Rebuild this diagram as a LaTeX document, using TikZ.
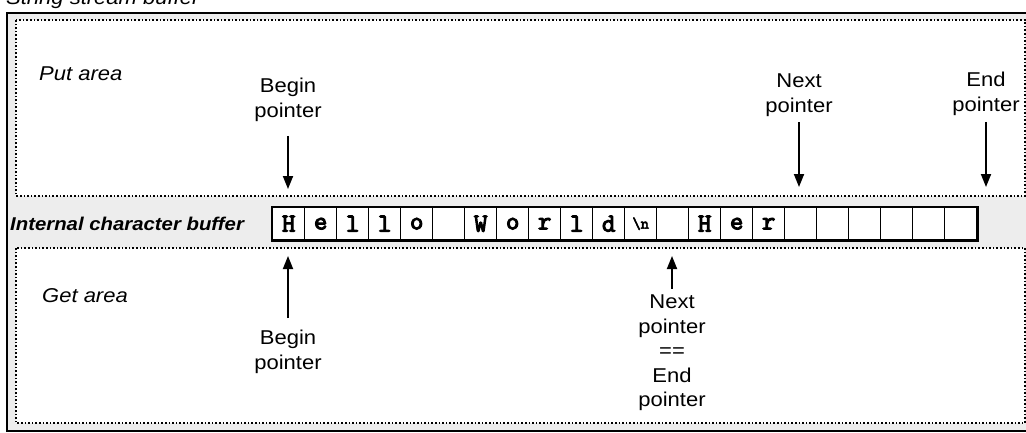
\documentclass[tikz,border=0pt]{standalone}
\usepackage{fontspec}
\setmainfont{Liberation Sans}[FakeStretch=1.1]
\newfontfamily\cellfont{Latin Modern Mono}[FakeBold=4]
\usetikzlibrary{arrows.meta}
\begin{document}
\begin{tikzpicture}[x=1pt,y=-1pt,
  lbl/.style={font=\fontsize{20}{24.5}\selectfont, align=center, inner sep=0pt},
  arealbl/.style={font=\fontsize{20}{23}\selectfont\itshape, inner sep=0pt, anchor=base west},
  cell/.style={draw, line width=1.4pt, minimum width=32pt, minimum height=32pt, inner sep=0pt,
    fill=white, anchor=north west, font=\cellfont\fontsize{26}{26}\selectfont},
  ptr/.style={line width=1.8pt, -{Triangle[length=13pt,width=10pt]}},
  area/.style={line width=1.6pt, dotted, fill=white},
  frame/.style={line width=2.4pt, fill=gray!14}]
\useasboundingbox (0,0) rectangle (1026,432);
% outer frame and areas
\draw[frame] (7,13) rectangle (1040,431);
\draw[area] (16,20) rectangle (1025,196);
\draw[area] (16,248) rectangle (1025,423);
% title (cut at top, as in the reference)
\node[font=\fontsize{20}{23}\selectfont\itshape, inner sep=0pt, anchor=base west] (title) at (6,4) {String stream buffer};
% area labels
\node[arealbl] (put) at (39,80) {Put area};
\node[arealbl, font=\fontsize{18.5}{23}\selectfont\bfseries\itshape] (icb) at (10,230) {Internal character buffer};
\node[arealbl] (get) at (42,302) {Get area};
% cells
\foreach \c [count=\i from 0] in {H,e,l,l,o,{},W,o,r,l,d,{\fontsize{16}{16}\selectfont\textbackslash n},{},H,e,r,{},{},{},{},{},{}}
  \node[cell] (c\i) at (272+32*\i,207) {\c};
\draw[line width=2.4pt] (c0.north west) rectangle (c21.south east);
% put area pointers
\node[lbl] (pbeg) at (288,100) {Begin\\pointer};
\node[lbl] (pnext) at (799,95) {Next\\pointer};
\node[lbl] (pend) at (986,94) {End\\pointer};
\coordinate (tpbeg) at (288,189);
\coordinate (tpnext) at (799,187);
\coordinate (tpend) at (986,187);
\draw[ptr, shorten <=14pt] (pbeg.south) -- (tpbeg);
\draw[ptr, shorten <=6pt] (pnext.south) -- (tpnext);
\draw[ptr, shorten <=6pt] (pend.south) -- (tpend);
% get area pointers
\node[lbl] (gbeg) at (288,352) {Begin\\pointer};
\node[lbl] (gnext) at (672,353) {Next\\pointer\\==\\End\\pointer};
\coordinate (tgbeg) at (288,256);
\coordinate (tgnext) at (672,256);
\draw[ptr, shorten <=12pt] (gbeg.north) -- (tgbeg);
\draw[ptr, shorten <=6pt] (gnext.north) -- (tgnext);
\end{tikzpicture}
\end{document}
